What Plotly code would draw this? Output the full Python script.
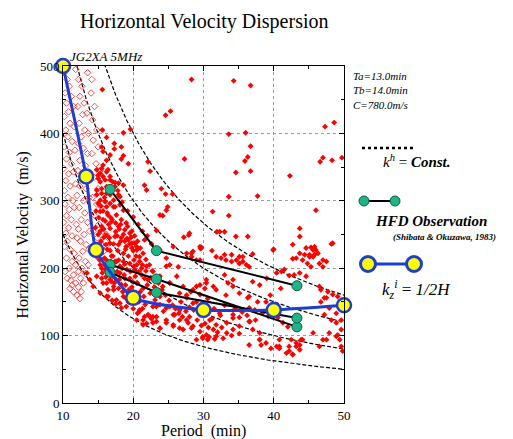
import numpy as np
import plotly.graph_objects as go

# page body margin (8px) is added around the figure by the browser
OFF = 8
W, H = 513 - OFF, 439 - OFF
FONT = "Liberation Serif, Times New Roman, serif"

# ---------------- data ----------------
x_ticks = [10, 20, 30, 40, 50]
y_ticks = [0, 100, 200, 300, 400, 500]

# constant horizontal wavelength curves (km): v = lambda / T
kh_wavelengths_km = [150, 240, 360, 480]

# HFD observations (Shibata & Okuzawa, 1983)
hfd_T = [16.7, 23.3, 43.3]
hfd_v1 = [317, 226, 174]
hfd_v2 = [205, 184, 113]
hfd_v3 = [194, 164, 126]

# k_z^i = 1/2H curve
kz_T = [10.0, 13.3, 14.7, 20.0, 30.0, 40.0, 50.0]
kz_v = [500, 336, 227, 156, 138, 138, 145]

# red filled diamonds (period min, velocity m/s)
filled_top = [(28.3, 480), (34.3, 478), (36.7, 471), (15.6, 465), (24.6, 427), (25.3, 433), (47.3, 410),
              (48.6, 416), (33.6, 399), (36.0, 401), (36.7, 381), (36.3, 365), (35.9, 359), (34.6, 342),
              (36.7, 344), (46.6, 358), (47.0, 364), (48.3, 360), (49.7, 364), (42.3, 337), (27.3, 362),
              (15.6, 405), (18.6, 401), (19.6, 406)]
filled_upper = [(16.2, 394), (17.3, 385), (18.3, 380), (17.3, 377), (18.6, 367), (19.3, 355), (18.3, 362),
                (15.5, 380), (15.7, 373), (16.7, 368), (16.2, 360), (22.1, 358), (22.4, 344), (15.7, 353),
                (16.4, 346), (15.3, 341), (16.0, 331), (15.0, 333), (16.7, 336), (17.1, 328), (17.9, 326),
                (17.4, 321), (18.6, 323), (15.5, 318), (16.2, 311), (14.8, 309), (15.3, 301), (16.0, 299),
                (16.7, 296), (17.4, 291), (18.1, 306), (21.9, 316), (21.6, 323), (24.0, 318), (24.6, 310),
                (25.6, 310), (23.8, 279), (24.7, 286), (24.9, 291), (24.2, 278)]
filled_mid = [(33.6, 306), (37.7, 307), (31.3, 284), (33.6, 278), (31.9, 254), (32.3, 254), (33.0, 254),
              (34.6, 247), (36.3, 247), (29.6, 229), (31.2, 226), (33.0, 220), (34.0, 220), (35.1, 217),
              (35.6, 217), (37.0, 221), (40.0, 228), (27.2, 246), (27.9, 249), (29.7, 231), (28.0, 252),
              (28.3, 222), (29.5, 232), (21.6, 242), (23.3, 256), (31.8, 217), (32.5, 215), (33.2, 212),
              (34.0, 210), (34.7, 212), (35.1, 207), (35.6, 210), (36.1, 205), (36.5, 202), (28.5, 225),
              (28.3, 217), (29.5, 212), (26.4, 202), (25.2, 205), (39.9, 227), (40.4, 193), (41.1, 195),
              (42.2, 189), (42.9, 190)]
filled_right = [(43.7, 259), (43.7, 247), (48.4, 237), (45.3, 231), (46.0, 227), (44.4, 220), (45.1, 220),
                (45.8, 220), (42.7, 214), (46.0, 286), (45.6, 217), (43.2, 215), (48.2, 236), (47.0, 212),
                (46.3, 222), (44.8, 207), (45.3, 202), (47.0, 202), (47.5, 210), (41.5, 198), (43.7, 193),
                (44.6, 188), (46.5, 207), (42.7, 235), (43.7, 222), (44.6, 230), (45.6, 227), (44.1, 212),
                (45.1, 217), (45.8, 232), (46.5, 173), (47.2, 156), (47.7, 165), (48.4, 161), (49.1, 158),
                (46.7, 168), (47.5, 156), (46.7, 150), (48.9, 133), (49.6, 123), (47.9, 141), (47.2, 131),
                (48.2, 123), (48.9, 119), (47.9, 104), (48.9, 99), (49.4, 94), (49.8, 77), (49.6, 84),
                (46.5, 84), (47.0, 94), (45.6, 104), (42.5, 94), (42.2, 77), (42.7, 72), (43.2, 84),
                (43.9, 94), (40.8, 84), (40.8, 94), (49.1, 101), (49.6, 109), (47.5, 94)]
filled_lower = [(30.4, 183), (31.4, 173), (30.2, 170), (33.0, 190), (34.2, 183), (33.5, 178), (36.3, 156),
                (37.7, 150), (36.5, 141), (37.3, 138), (34.2, 131), (35.1, 127), (36.5, 121), (37.4, 123),
                (38.4, 133), (39.2, 129), (40.6, 127), (41.3, 119), (42.0, 113), (29.9, 98), (30.8, 98),
                (31.6, 95), (32.8, 96), (35.1, 103), (36.5, 86), (38.0, 94), (38.2, 86), (39.6, 81),
                (40.8, 81), (42.2, 84), (43.2, 89), (43.7, 86), (24.2, 173), (25.2, 178), (23.8, 158),
                (23.3, 143), (22.8, 128), (27.1, 173), (28.5, 168), (29.5, 175), (31.8, 168), (33.2, 160),
                (34.2, 173), (35.1, 163), (36.5, 158), (38.9, 150), (40.4, 145), (39.5, 160), (41.0, 170),
                (38.0, 175), (37.0, 180), (39.0, 185)]
filled_core = [(14.8, 346), (15.5, 348), (16.2, 343), (15.0, 338), (15.7, 336), (16.7, 331), (15.3, 328),
               (17.4, 327), (16.2, 321), (14.8, 316), (15.5, 311), (16.7, 309), (17.9, 309), (17.2, 301),
               (16.0, 299), (15.0, 296), (16.2, 291), (17.2, 291), (18.1, 294), (18.6, 286), (15.3, 284),
               (16.4, 279), (17.6, 279), (15.7, 272), (16.9, 269), (18.3, 272), (19.0, 267), (15.5, 262),
               (16.7, 259), (17.9, 262), (18.8, 257), (19.5, 252), (16.2, 249), (17.4, 247), (18.3, 245),
               (19.3, 242), (20.2, 237), (16.7, 237), (17.9, 235), (19.0, 232), (19.8, 230), (20.5, 232)]
filled_band = [(14.8, 217), (15.5, 222), (16.2, 212), (15.3, 205), (16.0, 198), (16.7, 190), (15.5, 185),
               (16.2, 178), (17.2, 173), (16.4, 168), (17.6, 183), (18.1, 193), (18.8, 185), (17.2, 203),
               (17.9, 212), (18.6, 222), (19.0, 232), (19.8, 237), (20.5, 227), (20.9, 217), (19.5, 207),
               (20.2, 198), (21.2, 190), (21.9, 203), (22.1, 183), (20.5, 178), (21.4, 170), (20.0, 165),
               (22.4, 163), (23.1, 153), (23.8, 146), (21.7, 146), (20.9, 136), (22.1, 131), (23.3, 128),
               (24.3, 136), (25.2, 143), (25.9, 131), (26.6, 123), (24.7, 119), (25.7, 114), (27.1, 109),
               (27.8, 119), (28.3, 111), (23.8, 111), (22.8, 119), (20.5, 123), (21.4, 116), (26.6, 163),
               (27.6, 156), (28.5, 148), (29.5, 161), (29.0, 173), (30.4, 178), (25.2, 178), (26.2, 188),
               (23.8, 188), (22.8, 195), (24.7, 203), (29.0, 212), (27.6, 222), (23.8, 227), (24.7, 215),
               (25.7, 232)]
filled_bottom = [(20.9, 138), (22.4, 128), (23.3, 121), (24.7, 123), (25.7, 116), (26.6, 111), (27.6, 123),
                 (28.5, 114), (29.5, 106), (30.4, 101), (31.4, 109), (25.7, 131), (23.8, 111), (22.8, 143),
                 (26.6, 138), (28.0, 128), (29.5, 131), (30.9, 123), (31.8, 116), (33.3, 119), (34.2, 126),
                 (32.3, 133), (29.9, 96), (30.6, 94), (31.8, 99), (29.0, 94), (21.4, 123), (21.9, 118),
                 (24.7, 141), (34.2, 109), (35.1, 114), (36.6, 121), (37.0, 109), (38.0, 94), (38.9, 89),
                 (40.4, 84), (41.8, 74), (42.7, 72), (43.7, 79), (44.1, 94), (38.0, 104)]
filled_left = [(13.4, 193), (13.8, 183), (14.3, 173), (15.3, 163), (15.7, 178), (14.8, 188), (16.2, 158),
               (17.2, 168), (17.6, 153), (18.1, 148), (19.0, 143), (18.6, 158), (16.7, 183)]
filled_extra = [(15.0, 250), (15.4, 240), (15.8, 258), (16.3, 228), (16.6, 245), (16.9, 218), (17.2, 236),
                (17.5, 254), (17.8, 226), (18.2, 240), (18.6, 210), (18.9, 228), (19.3, 218), (19.7, 246),
                (20.1, 212), (20.5, 205), (20.8, 195), (21.2, 200), (21.6, 185), (22.0, 175), (17.0, 195),
                (17.4, 210), (18.4, 200), (18.9, 175), (19.4, 168), (19.9, 180), (20.3, 160), (20.8, 150),
                (21.3, 140), (19.0, 155), (18.5, 165), (17.9, 170), (16.9, 180), (16.4, 205), (15.9, 215),
                (15.5, 200), (15.2, 230), (14.9, 235), (14.6, 260), (15.1, 275), (15.7, 285), (16.5, 265),
                (17.0, 272), (17.7, 248), (18.0, 258), (18.8, 240), (19.2, 262), (19.8, 255), (20.2, 248),
                (20.6, 240), (21.0, 230), (21.4, 222), (21.8, 213), (22.3, 205), (22.7, 196), (23.2, 187),
                (23.6, 178), (24.1, 168), (24.6, 160), (25.1, 152), (25.6, 145), (26.0, 140), (26.5, 133),
                (27.0, 128), (27.5, 136), (28.0, 142), (28.6, 138), (29.1, 123), (29.7, 115), (30.2, 118),
                (30.7, 112), (31.2, 125), (32.0, 105), (32.6, 112), (33.3, 104), (34.0, 100), (26.8, 150),
                (27.6, 160), (28.2, 165), (29.0, 150), (30.0, 145), (30.6, 155), (31.5, 140), (32.4, 130),
                (33.0, 145), (34.5, 140), (35.5, 135), (36.2, 130)]
filled_dense = [(14.9, 228), (15.2, 212), (15.6, 193), (15.9, 205), (16.1, 187), (16.5, 197), (16.8, 210),
                (17.1, 188), (17.3, 178), (17.7, 195), (18.0, 183), (18.3, 176), (18.7, 190), (19.1, 198),
                (19.5, 185), (19.8, 172), (20.3, 188), (20.6, 178), (21.0, 165), (21.5, 158), (16.0, 270),
                (16.3, 282), (16.8, 275), (17.5, 267), (18.2, 265), (18.6, 250), (19.1, 244), (19.5, 236),
                (20.0, 226), (20.4, 218), (20.9, 210), (21.3, 205), (21.8, 196), (22.5, 186), (23.0, 172),
                (23.5, 165), (15.3, 255), (15.8, 246), (16.1, 235), (16.7, 226), (17.1, 218), (17.6, 210),
                (18.1, 203), (18.8, 206), (19.6, 195), (20.1, 203), (14.7, 285), (15.4, 292), (15.9, 305),
                (16.6, 318), (17.8, 315), (18.4, 298), (19.2, 285), (20.0, 276), (20.7, 265), (21.3, 255),
                (22.0, 248), (22.6, 236), (16.4, 158), (17.0, 152), (17.5, 147), (18.3, 141), (19.3, 150),
                (20.0, 140), (20.6, 133), (21.6, 128), (22.6, 125)]

# red open diamonds
open_left = [(10.2, 490), (10.6, 480), (10.9, 470), (10.3, 460), (11.2, 455), (10.5, 445), (10.8, 432),
             (11.5, 440), (10.2, 425), (11.0, 415), (10.4, 405), (11.6, 410), (10.7, 395), (11.3, 388),
             (10.2, 380), (10.9, 372), (11.7, 375), (10.5, 362), (11.2, 355), (10.1, 348), (10.8, 340),
             (11.5, 343), (10.4, 330), (11.0, 322), (10.2, 315), (11.8, 325), (10.7, 305), (11.4, 300),
             (10.3, 295), (10.9, 287), (11.6, 290), (10.5, 278), (11.2, 272), (10.1, 268), (10.8, 260),
             (11.9, 265), (10.4, 252), (11.3, 248), (10.6, 240), (12.0, 245), (10.2, 232), (11.0, 228),
             (11.6, 222), (10.5, 215), (11.3, 210), (10.9, 200), (11.8, 205), (10.3, 195), (11.5, 190),
             (11.1, 182), (12.2, 195), (11.8, 178), (12.5, 185), (12.2, 172), (12.9, 178), (12.6, 165),
             (11.0, 170), (11.5, 165), (12.0, 160), (12.4, 155), (10.6, 185), (11.3, 175)]
open_mid = [(12.2, 480), (12.7, 470), (12.4, 455), (13.0, 445), (12.1, 440), (12.8, 428), (13.4, 430),
            (12.3, 415), (13.1, 405), (12.6, 395), (13.6, 400), (12.2, 385), (12.9, 378), (13.5, 370),
            (12.4, 360), (13.2, 352), (12.1, 345), (12.8, 335), (13.8, 342), (12.4, 322), (13.3, 318),
            (12.0, 308), (12.9, 300), (13.7, 305), (12.3, 290), (13.1, 282), (12.6, 272), (13.5, 268),
            (12.2, 258), (13.0, 250), (13.8, 255), (12.5, 240), (13.3, 235), (12.8, 225), (13.7, 228),
            (12.3, 215), (13.2, 210), (12.7, 200), (13.6, 205), (13.2, 192)]
open_right = [(14.0, 460), (14.5, 440), (14.2, 420), (14.8, 405), (14.3, 390), (15.0, 380), (14.1, 370),
              (14.7, 355), (15.3, 345), (14.4, 335), (15.0, 318), (14.2, 305), (14.8, 295), (15.5, 290),
              (14.5, 278), (15.1, 265), (14.3, 255), (15.6, 255), (14.9, 245), (15.4, 235), (16.0, 240),
              (15.8, 225), (16.3, 230), (14.1, 480), (13.5, 490), (11.8, 495), (16.2, 250)]

# ---------------- layout geometry (window pixels) ----------------
PX_L, PX_R, PX_T, PX_B = 63, 344, 66, 403


def fx(px):
    return (px - OFF) / W


def fy(py):
    return 1 - (py - OFF) / H


filled = (filled_top + filled_upper + filled_mid + filled_right + filled_lower + filled_core +
          filled_band + filled_bottom + filled_left + filled_extra + filled_dense)
opened = open_left + open_mid + open_right

fig = go.Figure()

# k^h = const curves
T_curve = np.linspace(10, 50, 300)
for lam in kh_wavelengths_km:
    v = lam * 1000.0 / (T_curve * 60.0)
    m = v <= 505
    fig.add_trace(go.Scatter(x=T_curve[m], y=v[m], mode="lines",
                             line=dict(color="black", width=1.2, dash="4px,2px"),
                             hoverinfo="skip", showlegend=False))

fig.add_trace(go.Scatter(x=[p[0] for p in opened], y=[p[1] for p in opened], mode="markers",
                         marker=dict(symbol="diamond-open", size=5, color="#ff2020",
                                     line=dict(width=0.8, color="#ff2020")),
                         showlegend=False))
fig.add_trace(go.Scatter(x=[p[0] for p in filled], y=[p[1] for p in filled], mode="markers",
                         marker=dict(symbol="diamond", size=4.5, color="#ff0000", line=dict(width=0)),
                         showlegend=False))

GREEN = "#1fb386"
for vv in (hfd_v1, hfd_v2, hfd_v3):
    fig.add_trace(go.Scatter(x=hfd_T, y=vv, mode="lines+markers",
                             line=dict(color="black", width=2),
                             marker=dict(size=10, color=GREEN, line=dict(color="#0b5e44", width=1)),
                             showlegend=False))

BLUE = "#1e3ed2"
fig.add_trace(go.Scatter(x=kz_T, y=kz_v, mode="lines+markers", cliponaxis=False,
                         line=dict(color=BLUE, width=3, shape="spline", smoothing=0.5),
                         marker=dict(size=14, color="#ffff00", line=dict(color=BLUE, width=2.5)),
                         showlegend=False))

# ---------------- legend (pixel overlay axes, window pixel coords) ----------------
fig.add_trace(go.Scatter(x=[362, 415], y=[148, 148], mode="lines", xaxis="x2", yaxis="y2",
                         line=dict(color="black", width=2.5, dash="dot"), showlegend=False,
                         cliponaxis=False))
fig.add_trace(go.Scatter(x=[364, 395], y=[201, 201], mode="lines+markers", xaxis="x2", yaxis="y2",
                         line=dict(color="black", width=2),
                         marker=dict(size=10, color=GREEN, line=dict(color="#0b5e44", width=1)),
                         showlegend=False, cliponaxis=False))
fig.add_trace(go.Scatter(x=[368, 414], y=[264, 264], mode="lines+markers", xaxis="x2", yaxis="y2",
                         line=dict(color=BLUE, width=3),
                         marker=dict(size=15, color="#ffff00", line=dict(color=BLUE, width=3)),
                         showlegend=False, cliponaxis=False))

axis_common = dict(
    showline=True, linecolor="black", linewidth=1, mirror="ticks",
    ticks="inside", ticklen=5, tickwidth=1, tickcolor="black",
    showgrid=True, gridcolor="#9a9a9a", griddash="dot", gridwidth=1,
    zeroline=False, tickfont=dict(family=FONT, size=13, color="black"),
    automargin=False,
)

fig.update_layout(
    width=W, height=H, autosize=False,
    margin=dict(l=0, r=0, t=0, b=0),
    paper_bgcolor="white", plot_bgcolor="rgba(0,0,0,0)",
    font=dict(family=FONT, color="black"),
    xaxis=dict(domain=[fx(PX_L), fx(PX_R)], range=[10, 50], tickvals=x_ticks,
               minor=dict(dtick=5, tick0=10, ticks="inside", ticklen=3, tickcolor="black", showgrid=False),
               anchor="y", **axis_common),
    yaxis=dict(domain=[fy(PX_B), fy(PX_T)], range=[0, 500], tickvals=y_ticks,
               minor=dict(dtick=50, tick0=0, ticks="inside", ticklen=3, tickcolor="black", showgrid=False),
               anchor="x", **axis_common),
    xaxis2=dict(domain=[0, 1], range=[OFF, OFF + W], visible=False, anchor="y2", fixedrange=True),
    yaxis2=dict(domain=[0, 1], range=[OFF + H, OFF], visible=False, anchor="x2", fixedrange=True),
    showlegend=False,
)

ann = []


def text(px, py, s, size, xanchor="center", **kw):
    ann.append(dict(x=fx(px), y=fy(py), xref="paper", yref="paper", text=s, showarrow=False,
                    xanchor=xanchor, yanchor="middle", font=dict(family=FONT, size=size, color="black"),
                    **kw))


text(203.5, 22, "Horizontal Velocity Dispersion", 20)
text(203.5, 431, "Period  (min)", 16)
text(22.5, 235, "Horizontal Velocity  (m/s)", 16, textangle=-90)
text(68, 57, "<i>JG2XA 5MHz</i>", 13, xanchor="left")
text(351, 76, "<i>Ta=13.0min</i>", 11, xanchor="left")
text(351, 90, "<i>Tb=14.0min</i>", 11, xanchor="left")
text(351, 105, "<i>C=780.0m/s</i>", 11, xanchor="left")
text(381, 161, "<i>k</i><sup><i>h</i></sup> = <b><i>Const.</i></b>", 15, xanchor="left")
text(373, 221, "<b><i>HFD Observation</i></b>", 15, xanchor="left")
text(391, 237, "<b><i>(Shibata &amp; Okuzawa, 1983)</i></b>", 9, xanchor="left")
text(380, 289, "<i>k</i><sub><i>z</i></sub><sup><i>i</i></sup> = <i>1/2H</i>", 17, xanchor="left")
fig.update_layout(annotations=ann)

fig.write_html("out.html")
